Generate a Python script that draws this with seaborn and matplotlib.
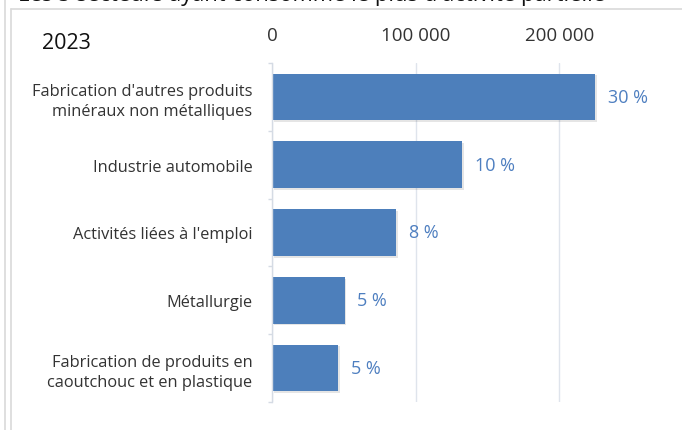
import matplotlib
matplotlib.use("Agg")
import matplotlib.pyplot as plt
import matplotlib.patheffects as pe
from matplotlib.lines import Line2D
from matplotlib.ticker import FixedLocator, FuncFormatter
import seaborn as sns
import pandas as pd

categories = [
    "Fabrication d'autres produits\nminéraux non métalliques",
    "Industrie automobile",
    "Activités liées à l'emploi",
    "Métallurgie",
    "Fabrication de produits en\ncaoutchouc et en plastique",
]
values = [225000, 132500, 86500, 50500, 46000]
shares = ["30 %", "10 %", "8 %", "5 %", "5 %"]
x_ticks = [0, 100000, 200000]
year_label = "2023"
title = "Les 5 secteurs ayant consommé le plus d'activité partielle"

sns.set_theme(style="white")
plt.rcParams["font.family"] = ["Open Sans", "DejaVu Sans"]

BAR = "#4d7fbb"
TXT = "#333333"
GRID = "#dfe4ec"

df = pd.DataFrame({"secteur": categories, "valeur": values})

fig = plt.figure(figsize=(6.82, 4.31), dpi=100)
ax = fig.add_axes([272 / 682, 1 - 403 / 431, (631 - 272) / 682, (403 - 64) / 431])

sns.barplot(data=df, y="secteur", x="valeur", orient="h", color=BAR,
            saturation=1, width=0.69, ax=ax, edgecolor="none")

for p in ax.patches:
    p.set_path_effects([pe.SimplePatchShadow(offset=(1.2, -1.2), shadow_rgbFace="#000000", alpha=0.10),
                        pe.Normal()])

ax.set_xlim(0, 250000)
ax.set_ylim(4.5, -0.5)
ax.set_xlabel("")
ax.set_ylabel("")

ax.xaxis.tick_top()
ax.xaxis.set_major_locator(FixedLocator(x_ticks))
ax.xaxis.set_major_formatter(FuncFormatter(lambda v, _: f"{int(v):,}".replace(",", " ")))
ax.tick_params(axis="x", length=0, pad=14, labelsize=13.5, labelcolor=TXT)
ax.tick_params(axis="y", which="major", length=0, pad=14, labelsize=11.8, labelcolor=TXT)
for t in ax.get_yticklabels():
    t.set_linespacing(1.35)
    t.set_horizontalalignment("right")

ax.yaxis.set_minor_locator(FixedLocator([i - 0.5 for i in range(len(categories) + 1)]))
ax.tick_params(axis="y", which="minor", length=3, width=1, color="#d5dbe4", left=True)

ax.grid(axis="x", color=GRID, linewidth=1)
ax.grid(axis="y", visible=False)
for s in ["top", "right", "bottom"]:
    ax.spines[s].set_visible(False)
ax.spines["left"].set_color("#d5dbe4")
ax.spines["left"].set_linewidth(1)
ax.set_axisbelow(True)

for p, lab in zip(ax.patches, shares):
    ax.annotate(lab, (p.get_x() + p.get_width(), p.get_y() + p.get_height() / 2),
                xytext=(9, 0), textcoords="offset points", va="center", ha="left",
                fontsize=13, color="#4e7fc0")

fig.text(42 / 682, 1 - 44 / 431, year_label, fontsize=15.5, color="#111111", va="center", ha="left")
fig.text(18 / 682, 1 - 0.5 / 431, title, fontsize=15.8, color="#111111", va="baseline", ha="left")

fig.add_artist(Line2D([4.5 / 682, 4.5 / 682], [0, 1], color="#d9d9d9", linewidth=1.2))
fig.add_artist(Line2D([11 / 682, 11 / 682], [0, 1 - 10 / 431], color="#d9d9d9", linewidth=1.2))
fig.add_artist(Line2D([11 / 682, 1], [1 - 10 / 431, 1 - 10 / 431], color="#d9d9d9", linewidth=1.2))

fig.savefig("out.png", dpi=100)
